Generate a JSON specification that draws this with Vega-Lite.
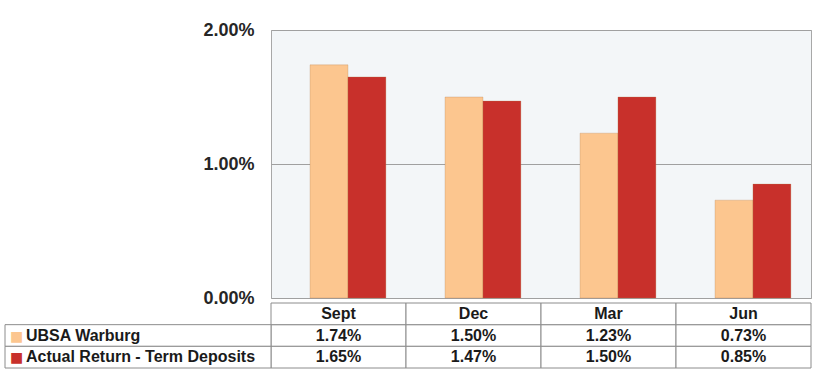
{
  "$schema": "https://vega.github.io/schema/vega-lite/v6.json",
  "width": 540,
  "height": 268,
  "autosize": {"type": "none"},
  "padding": {"left": 271, "top": 30, "right": 25, "bottom": 76},
  "background": "white",
  "config": {
    "view": {"fill": "#F3F6F8", "stroke": "#A8A8A8"},
    "font": "Liberation Sans",
    "text": {"font": "Liberation Sans"},
    "scale": {"bandPaddingInner": 0, "bandPaddingOuter": 0, "barBandPaddingInner": 0, "rectBandPaddingInner": 0}
  },
  "data": {
    "values": [
      {"month": "Sept", "series": "UBSA Warburg", "value": 0.0174},
      {"month": "Dec", "series": "UBSA Warburg", "value": 0.0150},
      {"month": "Mar", "series": "UBSA Warburg", "value": 0.0123},
      {"month": "Jun", "series": "UBSA Warburg", "value": 0.0073},
      {"month": "Sept", "series": "Actual Return - Term Deposits", "value": 0.0165},
      {"month": "Dec", "series": "Actual Return - Term Deposits", "value": 0.0147},
      {"month": "Mar", "series": "Actual Return - Term Deposits", "value": 0.0150},
      {"month": "Jun", "series": "Actual Return - Term Deposits", "value": 0.0085}
    ]
  },
  "resolve": {"scale": {"x": "independent", "y": "independent"}, "axis": {"x": "independent", "y": "independent"}},
  "layer": [
    {
      "mark": {"type": "bar", "stroke": "#B07A4A", "strokeOpacity": 0.35, "strokeWidth": 0.8},
      "encoding": {
        "x": {"field": "month", "type": "nominal", "axis": null,
              "scale": {"type": "band", "domain": ["Sept", "Dec", "Mar", "Jun"], "paddingInner": 0, "paddingOuter": 0}},
        "xOffset": {"field": "series", "type": "nominal",
              "scale": {"domain": ["UBSA Warburg", "Actual Return - Term Deposits"], "paddingInner": 0, "paddingOuter": 0.78, "align": 0.66}},
        "y": {"field": "value", "type": "quantitative",
              "scale": {"domain": [0, 0.02], "nice": false},
              "axis": {"values": [0, 0.01, 0.02], "format": ".2%", "grid": true, "gridColor": "#A0A0A0", "domain": false, "ticks": false,
                       "labelFontSize": 18, "labelFontWeight": "bold", "labelColor": "#262626", "labelPadding": 17, "labelFont": "Liberation Sans", "title": null}},
        "color": {"field": "series", "type": "nominal", "legend": null,
              "scale": {"domain": ["UBSA Warburg", "Actual Return - Term Deposits"], "range": ["#FCC68F", "#C8302B"]}}
      }
    },
    {
      "mark": {"type": "rect", "fill": "white", "stroke": "#8C8C8C", "strokeWidth": 1},
      "encoding": {
        "x": {"field": "month", "type": "nominal", "axis": null,
              "scale": {"type": "band", "domain": ["Sept", "Dec", "Mar", "Jun"], "paddingInner": 0, "paddingOuter": 0}},
        "y": {"field": "series", "type": "nominal", "axis": null,
              "scale": {"type": "band", "domain": ["header", "UBSA Warburg", "Actual Return - Term Deposits"], "range": [273, 338], "paddingInner": 0, "paddingOuter": 0}}
      }
    },
    {
      "transform": [{"filter": "datum.series === 'UBSA Warburg'"}],
      "mark": {"type": "rect", "fill": "white", "stroke": "#8C8C8C", "strokeWidth": 1},
      "encoding": {
        "x": {"field": "month", "type": "nominal", "axis": null,
              "scale": {"type": "band", "domain": ["Sept", "Dec", "Mar", "Jun"], "paddingInner": 0, "paddingOuter": 0}},
        "y": {"datum": "header", "type": "nominal", "axis": null,
              "scale": {"type": "band", "domain": ["header", "UBSA Warburg", "Actual Return - Term Deposits"], "range": [273, 338], "paddingInner": 0, "paddingOuter": 0}}
      }
    },
    {
      "mark": {"type": "text", "fontSize": 16, "fontWeight": "bold", "color": "#1A1A1A", "baseline": "middle", "align": "center"},
      "encoding": {
        "x": {"field": "month", "type": "nominal", "axis": null,
              "scale": {"type": "band", "domain": ["Sept", "Dec", "Mar", "Jun"], "paddingInner": 0, "paddingOuter": 0}},
        "y": {"field": "series", "type": "nominal", "axis": null,
              "scale": {"type": "band", "domain": ["header", "UBSA Warburg", "Actual Return - Term Deposits"], "range": [273, 338], "paddingInner": 0, "paddingOuter": 0}},
        "text": {"field": "value", "type": "quantitative", "format": ".2%"}
      }
    },
    {
      "transform": [{"filter": "datum.series === 'UBSA Warburg'"}],
      "mark": {"type": "text", "fontSize": 16, "fontWeight": "bold", "color": "#1A1A1A", "baseline": "middle", "align": "center"},
      "encoding": {
        "x": {"field": "month", "type": "nominal", "axis": null,
              "scale": {"type": "band", "domain": ["Sept", "Dec", "Mar", "Jun"], "paddingInner": 0, "paddingOuter": 0}},
        "y": {"datum": "header", "type": "nominal", "axis": null,
              "scale": {"type": "band", "domain": ["header", "UBSA Warburg", "Actual Return - Term Deposits"], "range": [273, 338], "paddingInner": 0, "paddingOuter": 0}},
        "text": {"field": "month", "type": "nominal"}
      }
    },
    {
      "transform": [{"filter": "datum.month === 'Sept'"}],
      "mark": {"type": "rect", "fill": "white", "stroke": "#8C8C8C", "strokeWidth": 1},
      "encoding": {
        "x": {"datum": 0, "type": "quantitative", "axis": null, "scale": {"domain": [0, 1], "range": [-266, 0], "nice": false, "zero": false}},
        "x2": {"datum": 1},
        "y": {"field": "series", "type": "nominal", "axis": null,
              "scale": {"type": "band", "domain": ["header", "UBSA Warburg", "Actual Return - Term Deposits"], "range": [273, 338], "paddingInner": 0, "paddingOuter": 0}}
      }
    },
    {
      "transform": [{"filter": "datum.month === 'Sept'"}],
      "mark": {"type": "text", "fontSize": 16, "fontWeight": "bold", "color": "#1A1A1A", "baseline": "middle", "align": "left", "dx": 21},
      "encoding": {
        "x": {"datum": 0, "type": "quantitative", "axis": null, "scale": {"domain": [0, 1], "range": [-266, 0], "nice": false, "zero": false}},
        "y": {"field": "series", "type": "nominal", "axis": null,
              "scale": {"type": "band", "domain": ["header", "UBSA Warburg", "Actual Return - Term Deposits"], "range": [273, 338], "paddingInner": 0, "paddingOuter": 0}},
        "text": {"field": "series", "type": "nominal"}
      }
    },
    {
      "transform": [{"filter": "datum.month === 'Sept'"}],
      "mark": {"type": "text", "fontSize": 14, "font": "DejaVu Sans", "baseline": "middle", "align": "left", "dx": 5, "dy": 1, "text": "■"},
      "encoding": {
        "x": {"datum": 0, "type": "quantitative", "axis": null, "scale": {"domain": [0, 1], "range": [-266, 0], "nice": false, "zero": false}},
        "y": {"field": "series", "type": "nominal", "axis": null,
              "scale": {"type": "band", "domain": ["header", "UBSA Warburg", "Actual Return - Term Deposits"], "range": [273, 338], "paddingInner": 0, "paddingOuter": 0}},
        "color": {"field": "series", "type": "nominal", "legend": null,
              "scale": {"domain": ["UBSA Warburg", "Actual Return - Term Deposits"], "range": ["#F0B573", "#C8302B"]}}
      }
    }
  ]
}
